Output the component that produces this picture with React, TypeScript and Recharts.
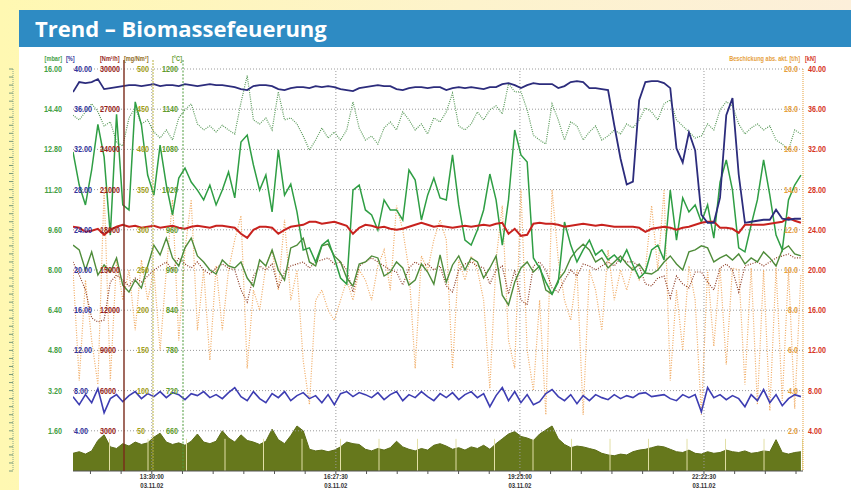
import React from 'react';
import { ComposedChart, Line, Area, XAxis, YAxis, ReferenceLine } from 'recharts';

// trend log 03.11.02, one sample every 6 minutes starting 12:14
const SAMPLE_MIN = 6;

// navy line, upper band [%]
const navyPct = [
  37.7, 38.7, 38.6, 38.7, 39.0, 38.0, 38.1, 38.2, 38.3, 38.4,
  38.4, 38.3, 38.4, 38.5, 38.3, 38.4, 38.4, 38.3, 38.5, 38.4,
  38.3, 38.4, 38.5, 38.4, 38.4, 38.3, 38.2, 38.0, 37.9, 38.3,
  38.4, 38.4, 38.3, 38.0, 37.9, 38.1, 38.2, 38.2, 38.1, 38.3,
  38.2, 38.3, 38.2, 38.0, 37.9, 37.8, 38.1, 38.2, 38.3, 38.4,
  38.3, 38.3, 38.0, 37.9, 38.1, 38.2, 38.2, 38.1, 38.2, 38.2,
  37.9, 38.1, 38.2, 38.1, 38.2, 38.1, 38.0, 38.2, 38.2, 38.5,
  38.6, 38.4, 38.1, 38.4, 38.6, 38.5, 38.5, 38.5, 38.1, 38.3,
  38.7, 38.8, 38.7, 38.1, 38.1, 38.0, 37.9, 34.4, 31.1, 28.5,
  28.8, 36.9, 38.7, 38.8, 38.8, 38.6, 38.1, 32.1, 30.7, 33.7,
  31.9, 25.5, 24.7, 24.7, 27.2, 35.4, 37.1, 29.5, 24.7, 24.8,
  24.9, 25.0, 25.0, 26.0, 25.1, 25.0, 25.1, 25.1,
];

// red line [kN]
const redKn = [
  24.3, 24.2, 23.8, 23.9, 24.1, 23.5, 24.0, 24.3, 24.5, 24.3,
  24.4, 24.2, 24.3, 24.4, 24.2, 24.3, 24.4, 24.2, 24.1, 24.3,
  24.4, 24.3, 24.2, 24.4, 24.4, 24.3, 24.2, 23.6, 23.2, 24.0,
  24.3, 24.3, 24.2, 23.6, 24.0, 24.3, 24.4, 24.5, 24.8, 24.8,
  24.6, 24.7, 24.8, 24.6, 24.4, 23.6, 24.2, 24.5, 24.4, 24.2,
  24.3, 24.1, 24.0, 24.1, 24.3, 24.5, 24.7, 24.5, 24.3, 24.4,
  24.3, 24.2, 24.3, 24.4, 24.3, 24.4, 24.5, 24.4, 24.6, 24.7,
  23.6, 24.1, 23.4, 23.5, 24.6, 24.7, 24.6, 24.6, 24.5, 24.3,
  24.4, 24.5, 24.6, 24.5, 24.4, 24.5, 24.4, 24.3, 24.3, 24.3,
  24.3, 24.2, 23.8, 24.1, 24.2, 24.3, 24.2, 24.0, 24.2, 24.3,
  24.5, 24.7, 24.8, 24.8, 24.2, 24.2, 24.1, 23.7, 24.5, 24.5,
  24.5, 24.5, 24.6, 24.7, 24.8, 25.2, 24.9, 24.7,
];

// blue line, lower band [%]
const bluePct = [
  7.4, 6.6, 7.6, 6.8, 8.2, 5.8, 7.2, 7.6, 6.9, 7.5,
  7.9, 7.2, 7.7, 7.4, 7.9, 7.3, 7.8, 7.6, 7.1, 7.7,
  7.5, 7.9, 7.3, 7.6, 7.2, 7.8, 8.3, 7.4, 7.0, 7.9,
  7.2, 6.8, 7.7, 7.3, 7.9, 7.0, 7.5, 7.8, 7.2, 7.5,
  6.8, 7.6, 6.6, 7.7, 7.9, 7.4, 7.8, 7.6, 7.3, 7.8,
  7.1, 7.6, 7.9, 7.0, 7.6, 7.3, 7.9, 7.4, 7.0, 7.7,
  7.3, 7.8, 7.1, 7.6, 7.9, 7.3, 7.7, 6.4, 7.5, 8.3,
  7.0, 7.9, 6.8, 7.6, 6.6, 6.9, 7.7, 8.1, 7.4, 7.0,
  7.6, 6.7, 7.5, 7.0, 7.6, 7.3, 7.1, 7.6, 7.2, 7.5,
  7.3, 7.7, 7.8, 7.4, 7.5, 7.6, 7.2, 7.0, 7.6, 7.3,
  7.6, 5.9, 8.3, 7.3, 7.6, 7.1, 7.5, 7.2, 6.4, 7.6,
  7.0, 8.1, 6.8, 7.6, 6.5, 7.2, 7.6, 7.4,
];

// olive filled area [mg/Nm³]
const oliveMg = [
  22, 24, 21, 25, 38, 45, 30, 28, 34, 31,
  36, 33, 35, 42, 47, 36, 33, 35, 32, 37,
  46, 36, 34, 37, 50, 41, 36, 45, 38, 36,
  33, 37, 52, 39, 34, 44, 56, 50, 27, 25,
  26, 24, 26, 30, 36, 34, 33, 27, 25, 28,
  26, 29, 37, 30, 27, 25, 28, 26, 32, 34,
  31, 27, 29, 26, 30, 28, 32, 27, 34, 40,
  46, 49, 43, 41, 38, 46, 51, 56, 40, 33,
  29, 31, 30, 28, 26, 22, 20, 19, 21, 20,
  24, 26, 27, 29, 31, 30, 27, 24, 23, 26,
  22, 21, 24, 22, 23, 26, 24, 23, 25, 22,
  23, 25, 24, 39, 23, 21, 23, 24,
];

// pale green dotted line [°C]
const paleGreenDeg = [
  1131, 1124, 1136, 1148, 1136, 1115, 1121, 1091, 1085, 1127,
  1142, 1118, 1124, 1106, 1097, 1109, 1094, 1127, 1139, 1148,
  1118, 1109, 1115, 1106, 1116, 1109, 1103, 1150, 1190, 1124,
  1118, 1127, 1109, 1166, 1124, 1127, 1118, 1100, 1079, 1094,
  1112, 1097, 1106, 1094, 1109, 1151, 1112, 1094, 1100, 1088,
  1112, 1121, 1109, 1136, 1124, 1109, 1118, 1103, 1127, 1121,
  1136, 1164, 1115, 1109, 1118, 1136, 1124, 1139, 1145, 1133,
  1178, 1166, 1166, 1139, 1101, 1094, 1088, 1148, 1124, 1094,
  1121, 1115, 1094, 1106, 1115, 1094, 1100, 1109, 1103, 1118,
  1112, 1124, 1142, 1136, 1124, 1148, 1154, 1124, 1115, 1106,
  1097, 1100, 1118, 1109, 1139, 1151, 1145, 1118, 1103, 1112,
  1118, 1109, 1115, 1094, 1088, 1079, 1109, 1103,
];

// bright green line [mbar]
const greenMbar = [
  12.70, 11.38, 10.59, 11.98, 13.80, 12.50, 9.39, 14.20, 10.59, 10.39,
  14.69, 13.77, 11.78, 10.98, 12.97, 11.38, 10.19, 11.66, 12.06, 11.50,
  11.18, 10.79, 11.38, 10.59, 11.18, 11.90, 10.87, 13.09, 13.37, 12.18,
  11.18, 11.78, 10.31, 12.78, 10.98, 11.42, 10.31, 8.80, 8.88, 8.32,
  8.99, 9.19, 8.48, 7.68, 7.44, 11.18, 11.38, 10.39, 10.19, 9.59,
  10.79, 10.39, 10.39, 9.99, 11.98, 11.58, 9.99, 10.98, 11.66, 10.87,
  10.79, 12.58, 10.59, 9.19, 8.99, 9.59, 10.39, 11.82, 10.79, 8.99,
  10.79, 13.57, 12.58, 12.30, 8.48, 8.08, 7.52, 7.04, 7.52, 9.91,
  8.99, 8.32, 8.80, 9.19, 8.60, 8.80, 8.40, 8.60, 8.32, 8.80,
  8.20, 7.68, 7.92, 8.80, 8.99, 8.40, 11.18, 9.19, 10.87, 10.31,
  10.59, 9.91, 10.59, 9.27, 11.50, 12.38, 11.18, 8.88, 8.72, 9.79,
  10.79, 12.38, 10.98, 9.39, 8.80, 10.79, 11.38, 11.78,
];

// dark green line [mbar]
const darkGreenMbar = [
  8.99, 8.80, 8.00, 8.72, 7.80, 8.20, 7.92, 8.48, 7.40, 7.12,
  7.60, 7.28, 8.16, 8.99, 8.60, 9.27, 8.48, 8.16, 8.88, 9.27,
  8.56, 8.32, 8.00, 7.84, 8.40, 8.16, 8.08, 8.32, 7.68, 7.36,
  8.40, 8.16, 8.80, 8.00, 7.60, 8.88, 8.99, 9.27, 8.32, 8.16,
  8.96, 9.03, 8.56, 8.32, 7.68, 7.36, 8.24, 8.32, 8.56, 8.48,
  7.76, 7.92, 8.32, 8.08, 7.40, 7.60, 8.24, 7.92, 7.44, 8.60,
  7.52, 8.20, 8.56, 8.00, 8.48, 8.32, 7.68, 8.08, 8.56, 7.00,
  6.61, 7.52, 8.08, 8.32, 7.92, 8.16, 7.20, 7.04, 7.60, 7.92,
  8.48, 8.80, 9.03, 8.80, 8.32, 8.48, 8.08, 8.32, 8.56, 8.24,
  8.00, 8.24, 7.88, 7.84, 8.00, 8.32, 8.56, 8.24, 8.00, 8.72,
  8.80, 8.96, 8.88, 8.32, 8.48, 8.60, 8.40, 8.64, 8.24, 8.48,
  8.32, 8.72, 8.48, 8.16, 8.80, 8.96, 8.64, 8.56,
];

// brown dotted line [Nm³/h]
const brownNm3 = [
  15600, 14630, 13510, 11420, 11120, 11270, 14100, 14630, 14250, 13810,
  14400, 14100, 14550, 15000, 15300, 15600, 15000, 15900, 15450, 15150,
  15600, 15000, 14700, 15150, 15450, 15150, 15000, 13510, 12610, 14550,
  15300, 15000, 15450, 13660, 14850, 15300, 15450, 15600, 15150, 15600,
  15750, 15900, 15450, 15600, 15000, 13360, 15300, 15600, 15900, 15600,
  15300, 15000, 14850, 13880, 15150, 15600, 15300, 15450, 15000, 15300,
  13810, 13360, 15000, 15450, 15600, 15300, 15150, 13960, 15000, 15300,
  13210, 15000, 12760, 12390, 15300, 15600, 15000, 13660, 13360, 14250,
  15000, 14550, 15450, 15300, 15000, 15300, 15600, 15300, 15900, 15600,
  15600, 15300, 13960, 13810, 14400, 14550, 12910, 14550, 13960, 13660,
  14850, 14850, 14100, 13510, 15150, 15450, 15000, 13360, 15300, 15450,
  15600, 15300, 15600, 15900, 16050, 16190, 15900, 15900,
];

// orange dotted line, feed [t/h]
const orangeTh = [
  10.0, 4.5, 9.5, 6.5, 4.3, 14.0, 4.5, 10.5, 8.5, 10.0,
  7.0, 10.5, 8.5, 10.0, 6.0, 10.0, 13.5, 6.5, 11.0, 13.5,
  7.0, 10.0, 5.5, 10.2, 7.0, 10.0, 11.5, 12.7, 5.1, 9.0,
  8.0, 10.2, 11.0, 9.0, 12.5, 8.5, 10.0, 5.5, 3.3, 8.5,
  9.0, 8.0, 7.5, 8.5, 9.5, 8.5, 10.0, 9.5, 8.5, 10.2,
  11.0, 9.0, 13.2, 12.0, 10.0, 5.1, 10.7, 10.0, 11.5, 12.5,
  11.5, 5.1, 10.5, 9.5, 10.7, 10.0, 8.5, 4.1, 10.5, 13.2,
  6.5, 5.1, 14.0, 6.0, 4.0, 8.5, 2.8, 14.0, 10.5, 8.5,
  7.5, 10.0, 2.8, 10.0, 9.0, 7.0, 11.0, 8.5, 10.0, 9.0,
  10.2, 9.5, 10.0, 13.2, 10.0, 14.0, 4.5, 9.0, 6.0, 10.2,
  8.5, 2.8, 10.0, 6.2, 10.1, 5.3, 10.1, 10.0, 4.3, 10.1,
  3.3, 10.0, 3.0, 10.1, 3.5, 10.0, 3.1, 9.8,
];

// axis labels, bottom to top (0 level has none)
const mbarLabels = ['', '1.60', '3.20', '4.80', '6.40', '8.00', '9.60', '11.20', '12.80', '14.40', '16.00'];
const pctLabels = ['', '4.00', '8.00', '12.00', '16.00', '20.00', '24.00', '28.00', '32.00', '36.00', '40.00'];
const nm3Labels = ['', '3000', '6000', '9000', '12000', '15000', '18000', '21000', '24000', '27000', '30000'];
const mgLabels = ['', '50', '100', '150', '200', '250', '300', '350', '400', '450', '500'];
const degLabels = ['', '660', '720', '780', '840', '900', '960', '1020', '1080', '1140', '1200'];
const thLabels = ['', '2.0', '4.0', '6.0', '8.0', '10.0', '12.0', '14.0', '16.0', '18.0', '20.0'];
const knLabels = ['', '4.00', '8.00', '12.00', '16.00', '20.00', '24.00', '28.00', '32.00', '36.00', '40.00'];
const knTicks = [0, 4, 8, 12, 16, 20, 24, 28, 32, 36, 40];

// time axis in minutes after 12:14
const majorTimes = [76, 253.5, 431, 608.5];
const timeLabels = ['13:30:00', '16:27:30', '19:25:00', '22:22:30'];
const dateLabel = '03.11.02';

const C = {
  mbar: '#44a044',
  pct: '#34349a',
  nm3: '#961f1a',
  mg: '#a3a01c',
  deg: '#5f9c2e',
  th: '#e6a03c',
  kn: '#d6361e',
};
const FONT = "'Liberation Sans', Arial, sans-serif";

const rows = navyPct.map((v, i) => ({
  t: i * SAMPLE_MIN,
  navy: v,
  red: redKn[i],
  blue: bluePct[i],
  olive: oliveMg[i],
  paleGreen: paleGreenDeg[i],
  green: greenMbar[i],
  darkGreen: darkGreenMbar[i],
  brown: brownNm3[i],
  orange: orangeTh[i],
}));

const minorY = Array.from({ length: 51 }, (_, k) => +(k * 0.32).toFixed(2));
const minorX = Array.from({ length: 24 }, (_, k) => 76 + ((k - 2) * 177.5) / 6);
// light block separators showing through the olive area
const blockTimes = Array.from({ length: 19 }, (_, k) => 35.2 + k * 37.13);

// condensed look: squeeze text horizontally around its anchor
const Narrow = ({ x, y, anchor = 'start', fill, children, sx = 0.8 }: any) => (
  <text transform={`translate(${x},${y}) scale(${sx},1)`} textAnchor={anchor} fill={fill}>
    {children}
  </text>
);

const LeftTick = (props: any) => {
  const { y, payload } = props;
  const v = payload.value;
  const k = Math.round(v / 1.6);
  if (Math.abs(v - k * 1.6) > 0.001 || k === 0) return <g />;
  const ty = y + 3;
  return (
    <g fontFamily={FONT} fontWeight="bold" fontSize={9}>
      <Narrow x={62} y={ty} anchor="end" fill={C.mbar}>{mbarLabels[k]}</Narrow>
      <Narrow x={74} y={ty} fill={C.pct}>{pctLabels[k]}</Narrow>
      <Narrow x={100} y={ty} fill={C.nm3}>{nm3Labels[k]}</Narrow>
      <Narrow x={137} y={ty} fill={C.mg}>{mgLabels[k]}</Narrow>
      <Narrow x={178} y={ty} anchor="end" fill={C.deg}>{degLabels[k]}</Narrow>
      <Narrow x={798} y={ty} anchor="end" fill={C.th}>{thLabels[k]}</Narrow>
      <Narrow x={808} y={ty} fill={C.kn}>{knLabels[k]}</Narrow>
    </g>
  );
};

const TimeTick = (props: any) => {
  const { x, y, payload } = props;
  const idx = majorTimes.findIndex((m) => Math.abs(m - payload.value) < 0.01);
  if (idx < 0) return <g />;
  return (
    <g fontFamily={FONT} fontWeight="bold" fontSize={8}>
      <Narrow x={x} y={y + 5} anchor="middle" fill="#333" sx={0.75}>{timeLabels[idx]}</Narrow>
      <Narrow x={x} y={y + 14} anchor="middle" fill="#333" sx={0.75}>{dateLabel}</Narrow>
    </g>
  );
};

export default function App() {
  return (
    <div
      style={{
        position: 'fixed',
        left: 0,
        top: 0,
        width: 851,
        height: 490,
        overflow: 'hidden',
        background: 'linear-gradient(90deg, #fff8b2 0%, #fdf3cc 55%, #fcefda 100%)',
      }}
    >
      <div
        style={{
          position: 'absolute',
          left: 19,
          top: 10,
          width: 832,
          height: 37,
          background: '#2e8bc3',
          color: '#fff',
          fontFamily: "'Open Sans', 'Liberation Sans', sans-serif",
          fontWeight: 700,
          fontSize: 22,
          lineHeight: '36px',
          paddingLeft: 16,
          boxSizing: 'border-box',
        }}
      >
        Trend – Biomassefeuerung
      </div>
      <div style={{ position: 'absolute', left: 19, top: 47, width: 832, height: 443, background: '#fff' }} />

      <div style={{ position: 'absolute', left: 0, top: 0 }}>
        <ComposedChart width={851} height={490} data={rows} margin={{ top: 69, right: 47, bottom: 18, left: 72 }}>
          <XAxis
            dataKey="t"
            type="number"
            domain={[0, 704]}
            ticks={minorX}
            interval={0}
            height={1}
            tickSize={3}
            tickMargin={0}
            axisLine={{ stroke: '#555' }}
            tickLine={{ stroke: '#555' }}
            tick={<TimeTick />}
            allowDataOverflow
          />
          <YAxis
            yAxisId="mbar"
            domain={[0, 16]}
            ticks={minorY}
            interval={0}
            width={1}
            tickSize={4}
            axisLine={{ stroke: '#8aa88a', strokeDasharray: '1 1' }}
            tickLine={{ stroke: '#7a9a7a' }}
            tick={<LeftTick />}
            allowDataOverflow
          />
          <YAxis
            yAxisId="kn"
            orientation="right"
            domain={[0, 40]}
            ticks={knTicks}
            interval={0}
            width={1}
            tick={false}
            tickLine={false}
            axisLine={{ stroke: C.th, strokeDasharray: '1 1' }}
          />
          <YAxis yAxisId="pct" domain={[0, 40]} hide />
          <YAxis yAxisId="nm3" domain={[0, 30000]} hide />
          <YAxis yAxisId="mg" domain={[0, 500]} hide />
          <YAxis yAxisId="deg" domain={[600, 1200]} hide />
          <YAxis yAxisId="th" domain={[0, 20]} hide />

          {knTicks.slice(1).map((v) => (
            <ReferenceLine key={`h${v}`} y={v} yAxisId="kn" stroke="#9a9a9a" strokeDasharray="1 2" />
          ))}
          {majorTimes.map((m) => (
            <ReferenceLine key={`v${m}`} x={m} yAxisId="mbar" stroke="#9a9a9a" strokeDasharray="1 2" />
          ))}

          <Area yAxisId="mg" dataKey="olive" type="linear" stroke="#5c6d18" strokeWidth={1} fill="#66781c" fillOpacity={1} isAnimationActive={false} />
          {blockTimes.map((t) => (
            <ReferenceLine
              key={`b${t}`}
              yAxisId="mg"
              segment={[{ x: t, y: 0 }, { x: t, y: 40 }]}
              stroke="#e2dfa6"
              strokeWidth={1}
            />
          ))}
          <Line yAxisId="th" dataKey="orange" type="linear" stroke="#f0aa62" strokeWidth={1.2} strokeDasharray="1 1.5" dot={false} isAnimationActive={false} />
          <Line yAxisId="nm3" dataKey="brown" type="linear" stroke="#8c3a22" strokeWidth={1.2} strokeDasharray="1 1.5" dot={false} isAnimationActive={false} />
          <Line yAxisId="mbar" dataKey="darkGreen" type="linear" stroke="#4f8c3a" strokeWidth={1.4} dot={false} isAnimationActive={false} />
          <Line yAxisId="deg" dataKey="paleGreen" type="linear" stroke="#5a9a5a" strokeWidth={1.2} strokeDasharray="1 1.2" dot={false} isAnimationActive={false} />
          <Line yAxisId="mbar" dataKey="green" type="linear" stroke="#2f9e44" strokeWidth={1.5} dot={false} isAnimationActive={false} />
          <Line yAxisId="kn" dataKey="red" type="linear" stroke="#c8221e" strokeWidth={2} dot={false} isAnimationActive={false} />
          <Line yAxisId="pct" dataKey="navy" type="linear" stroke="#2c2c7c" strokeWidth={1.8} dot={false} isAnimationActive={false} />
          <Line yAxisId="pct" dataKey="blue" type="linear" stroke="#3d3db2" strokeWidth={1.6} dot={false} isAnimationActive={false} />
        </ComposedChart>
      </div>

      <svg width={851} height={490} style={{ position: 'absolute', left: 0, top: 0, pointerEvents: 'none' }}>
        <line x1={124} y1={60} x2={124} y2={471} stroke="#7a2a1a" strokeWidth={1.4} />
        <line x1={153} y1={60} x2={153} y2={471} stroke="#b8b040" strokeWidth={1} strokeDasharray="2 1" />
        <line x1={183} y1={60} x2={183} y2={471} stroke="#4d9a3a" strokeWidth={1} strokeDasharray="2 1.5" />
        <g fontFamily={FONT} fontWeight="bold" fontSize={8}>
          <Narrow x={62} y={61} anchor="end" fill={C.mbar} sx={0.7}>[mbar]</Narrow>
          <Narrow x={66} y={61} fill={C.pct} sx={0.7}>[%]</Narrow>
          <Narrow x={100} y={61} fill={C.nm3} sx={0.7}>[Nm³/h]</Narrow>
          <Narrow x={124} y={61} fill="#8f6a1a" sx={0.7}>[mg/Nm³]</Narrow>
          <Narrow x={172} y={61} fill={C.deg} sx={0.7}>[°C]</Narrow>
          <Narrow x={800} y={61} anchor="end" fill={C.th} sx={0.7}>Beschickung abs. akt. [t/h]</Narrow>
          <Narrow x={805} y={61} fill={C.kn} sx={0.7}>[kN]</Narrow>
        </g>
      </svg>
    </div>
  );
}
